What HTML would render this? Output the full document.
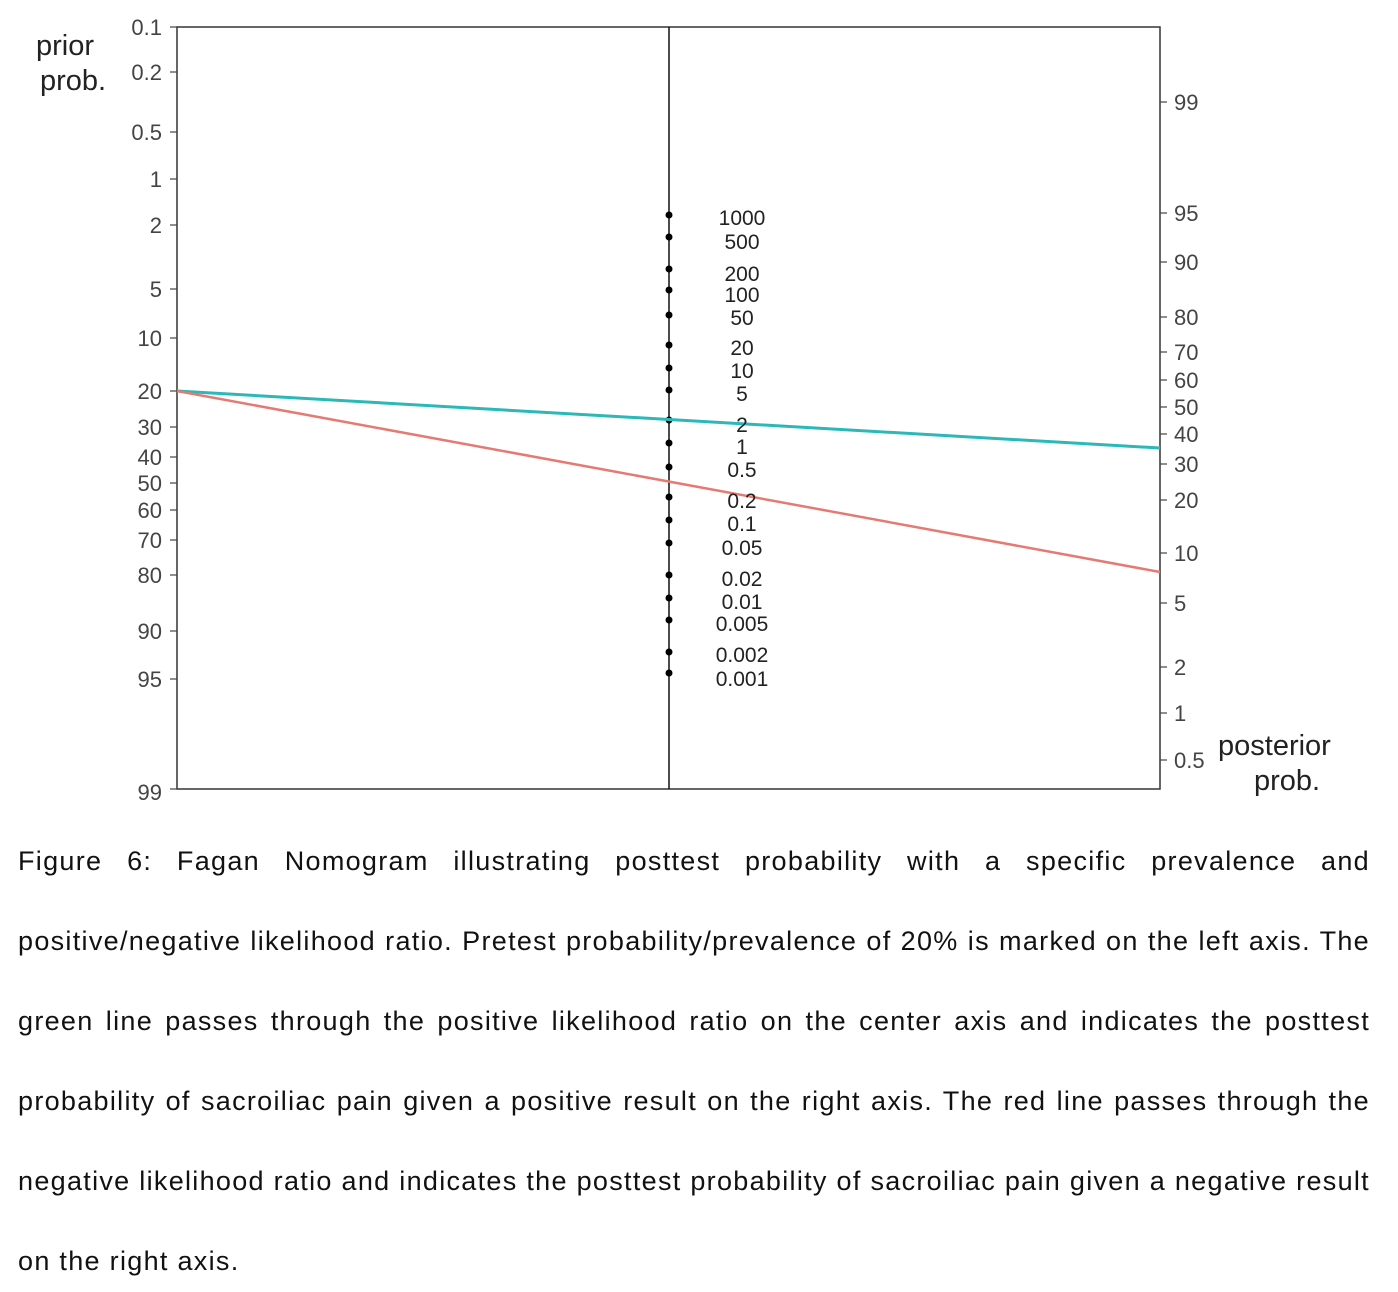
<!DOCTYPE html>
<html><head><style>
body{margin:0;background:#fff;width:1398px;height:1292px;overflow:hidden;position:relative;font-family:"Liberation Sans",sans-serif}
.cap{position:absolute;left:18px;width:1352px;font-size:27px;color:#111;letter-spacing:1.3px}
.cap div{position:absolute;left:0;width:1352px;text-align:justify;text-align-last:justify;white-space:nowrap}
.cap div.l{text-align-last:left}
</style></head><body>
<svg width="1398" height="810" style="position:absolute;left:0;top:0" font-family="Liberation Sans, sans-serif">
<rect x="177" y="27" width="983" height="762" fill="none" stroke="#333" stroke-width="1.5"/>
<line x1="669" y1="27" x2="669" y2="789" stroke="#111" stroke-width="1.5"/>
<g font-size="22" fill="#444" text-anchor="end" stroke="#444">
<g stroke-width="1.2">
<line x1="170" y1="27" x2="177" y2="27"/><line x1="170" y1="72" x2="177" y2="72"/><line x1="170" y1="132" x2="177" y2="132"/><line x1="170" y1="179" x2="177" y2="179"/><line x1="170" y1="225" x2="177" y2="225"/><line x1="170" y1="289" x2="177" y2="289"/><line x1="170" y1="338" x2="177" y2="338"/><line x1="170" y1="391" x2="177" y2="391"/><line x1="170" y1="427" x2="177" y2="427"/><line x1="170" y1="457" x2="177" y2="457"/><line x1="170" y1="483" x2="177" y2="483"/><line x1="170" y1="510" x2="177" y2="510"/><line x1="170" y1="540" x2="177" y2="540"/><line x1="170" y1="575" x2="177" y2="575"/><line x1="170" y1="631" x2="177" y2="631"/><line x1="170" y1="679" x2="177" y2="679"/><line x1="170" y1="789" x2="177" y2="789"/>
</g>
<g stroke="none">
<text x="162" y="35">0.1</text><text x="162" y="80">0.2</text><text x="162" y="140">0.5</text><text x="162" y="187">1</text><text x="162" y="233">2</text><text x="162" y="297">5</text><text x="162" y="346">10</text><text x="162" y="399">20</text><text x="162" y="435">30</text><text x="162" y="465">40</text><text x="162" y="491">50</text><text x="162" y="518">60</text><text x="162" y="548">70</text><text x="162" y="583">80</text><text x="162" y="639">90</text><text x="162" y="687">95</text><text x="162" y="800">99</text>
</g></g>
<g font-size="22" fill="#444" stroke="#444">
<g stroke-width="1.2">
<line x1="1160" y1="102" x2="1167" y2="102"/><line x1="1160" y1="213" x2="1167" y2="213"/><line x1="1160" y1="262" x2="1167" y2="262"/><line x1="1160" y1="317" x2="1167" y2="317"/><line x1="1160" y1="352" x2="1167" y2="352"/><line x1="1160" y1="380" x2="1167" y2="380"/><line x1="1160" y1="407" x2="1167" y2="407"/><line x1="1160" y1="434" x2="1167" y2="434"/><line x1="1160" y1="464" x2="1167" y2="464"/><line x1="1160" y1="500" x2="1167" y2="500"/><line x1="1160" y1="553" x2="1167" y2="553"/><line x1="1160" y1="603" x2="1167" y2="603"/><line x1="1160" y1="667" x2="1167" y2="667"/><line x1="1160" y1="713" x2="1167" y2="713"/><line x1="1160" y1="760" x2="1167" y2="760"/>
</g>
<g stroke="none">
<text x="1174" y="110">99</text><text x="1174" y="221">95</text><text x="1174" y="270">90</text><text x="1174" y="325">80</text><text x="1174" y="360">70</text><text x="1174" y="388">60</text><text x="1174" y="415">50</text><text x="1174" y="442">40</text><text x="1174" y="472">30</text><text x="1174" y="508">20</text><text x="1174" y="561">10</text><text x="1174" y="611">5</text><text x="1174" y="675">2</text><text x="1174" y="721">1</text><text x="1174" y="768">0.5</text>
</g></g>
<g font-size="29" fill="#222">
<text x="36" y="55">prior</text><text x="40" y="90">prob.</text>
<text x="1218" y="755">posterior</text><text x="1254" y="790">prob.</text>
</g>
<g fill="#000">
<circle cx="669" cy="215" r="3.5"/><circle cx="669" cy="237" r="3.5"/><circle cx="669" cy="269" r="3.5"/><circle cx="669" cy="290" r="3.5"/><circle cx="669" cy="315" r="3.5"/><circle cx="669" cy="345" r="3.5"/><circle cx="669" cy="368" r="3.5"/><circle cx="669" cy="390" r="3.5"/><circle cx="669" cy="420" r="3.5"/><circle cx="669" cy="443" r="3.5"/><circle cx="669" cy="467" r="3.5"/><circle cx="669" cy="497" r="3.5"/><circle cx="669" cy="520" r="3.5"/><circle cx="669" cy="543" r="3.5"/><circle cx="669" cy="575" r="3.5"/><circle cx="669" cy="598" r="3.5"/><circle cx="669" cy="620" r="3.5"/><circle cx="669" cy="652" r="3.5"/><circle cx="669" cy="673" r="3.5"/>
</g>
<line x1="177" y1="391" x2="1160" y2="448" stroke="#2bb8b8" stroke-width="3"/>
<line x1="177" y1="391" x2="1160" y2="572" stroke="#e57a72" stroke-width="2.5"/>
<g font-size="21" fill="#222" text-anchor="middle">
<text x="742" y="225">1000</text><text x="742" y="249">500</text><text x="742" y="281">200</text><text x="742" y="302">100</text><text x="742" y="325">50</text><text x="742" y="355">20</text><text x="742" y="378">10</text><text x="742" y="401">5</text><text x="742" y="432">2</text><text x="742" y="454">1</text><text x="742" y="477">0.5</text><text x="742" y="508">0.2</text><text x="742" y="531">0.1</text><text x="742" y="555">0.05</text><text x="742" y="586">0.02</text><text x="742" y="609">0.01</text><text x="742" y="631">0.005</text><text x="742" y="662">0.002</text><text x="742" y="686">0.001</text>
</g>
</svg>
<div class="cap">
<div style="top:846px">Figure 6: Fagan Nomogram illustrating posttest probability with a specific prevalence and</div>
<div style="top:926px">positive/negative likelihood ratio. Pretest probability/prevalence of 20% is marked on the left axis. The</div>
<div style="top:1006px">green line passes through the positive likelihood ratio on the center axis and indicates the posttest</div>
<div style="top:1086px">probability of sacroiliac pain given a positive result on the right axis. The red line passes through the</div>
<div style="top:1166px">negative likelihood ratio and indicates the posttest probability of sacroiliac pain given a negative result</div>
<div class="l" style="top:1246px">on the right axis.</div>
</div>
</body></html>
